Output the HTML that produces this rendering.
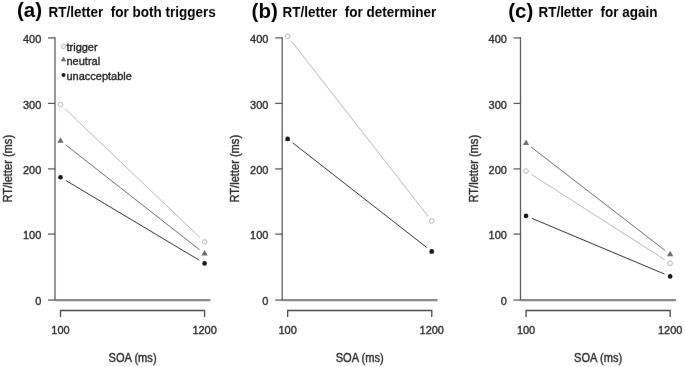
<!DOCTYPE html>
<html><head><meta charset="utf-8"><style>
html,body{margin:0;padding:0;background:#fff;}
svg{display:block;filter:grayscale(100%);}
text{font-family:"Liberation Sans",sans-serif;font-size:11px;fill:#2a2a2a;stroke:#2a2a2a;stroke-width:0.35px;}
text.xl{font-size:11.1px;}
text.yl{font-size:11.1px;}
text.lg{fill:#1e1e1e;stroke:#1e1e1e;}
text.tl{font-weight:bold;font-size:20.5px;fill:#000;stroke:none;}
text.ts{font-weight:bold;font-size:13.5px;fill:#000;stroke:none;}
</style></head><body>
<svg width="685" height="367" viewBox="0 0 685 367">
<defs><filter id="bl" x="0" y="0" width="685" height="367" filterUnits="userSpaceOnUse" color-interpolation-filters="sRGB"><feConvolveMatrix order="3" kernelMatrix="0.0016 0.0371 0.0016 0.0371 0.8450 0.0371 0.0016 0.0371 0.0016" preserveAlpha="true" edgeMode="duplicate"/></filter></defs>
<g filter="url(#bl)">
<rect width="685" height="367" fill="#fff"/>
<line x1="54.74" y1="300.05" x2="210.36" y2="300.05" stroke="#888" stroke-width="2.2"/>
<line x1="55.00" y1="37.27" x2="55.00" y2="300.05" stroke="#555" stroke-width="1.25"/>
<line x1="48.00" y1="300.05" x2="55.00" y2="300.05" stroke="#555" stroke-width="1.25"/>
<text transform="translate(41.30,305.15) scale(1,1.07)" text-anchor="end">0</text>
<line x1="48.00" y1="234.10" x2="55.00" y2="234.10" stroke="#555" stroke-width="1.25"/>
<text transform="translate(41.30,239.20) scale(1,1.07)" text-anchor="end">100</text>
<line x1="48.00" y1="168.90" x2="55.00" y2="168.90" stroke="#555" stroke-width="1.25"/>
<text transform="translate(41.30,174.00) scale(1,1.07)" text-anchor="end">200</text>
<line x1="48.00" y1="103.40" x2="55.00" y2="103.40" stroke="#555" stroke-width="1.25"/>
<text transform="translate(41.30,108.50) scale(1,1.07)" text-anchor="end">300</text>
<line x1="48.00" y1="37.90" x2="55.00" y2="37.90" stroke="#555" stroke-width="1.25"/>
<text transform="translate(41.30,43.00) scale(1,1.07)" text-anchor="end">400</text>
<path d="M60.50,316.9 V310.5 H204.60 V316.9" fill="none" stroke="#474747" stroke-width="1.3"/>
<text transform="translate(60.50,334.20) scale(1,1.07)" text-anchor="middle">100</text>
<text transform="translate(204.60,334.20) scale(1,1.07)" text-anchor="middle">1200</text>
<text transform="translate(132.55,362.10) scale(1,1.07)" text-anchor="middle" class="xl">SOA (ms)</text>
<text transform="translate(12.20,168.70) rotate(-90) scale(1,1.07)" text-anchor="middle" class="yl">RT/letter (ms)</text>
<line x1="65.06" y1="108.85" x2="200.04" y2="237.55" stroke="#b8b8b8" stroke-width="1"/>
<line x1="65.46" y1="144.69" x2="199.64" y2="249.81" stroke="#6a6a6a" stroke-width="1"/>
<line x1="65.91" y1="180.53" x2="199.19" y2="260.17" stroke="#2e2e2e" stroke-width="1"/>
<circle cx="60.50" cy="104.50" r="2.30" fill="none" stroke="#b4b4b4" stroke-width="1"/>
<circle cx="204.60" cy="241.90" r="2.30" fill="none" stroke="#b4b4b4" stroke-width="1"/>
<polygon points="60.50,137.15 63.66,142.63 57.34,142.63" fill="#6c6c6c"/>
<polygon points="204.60,250.05 207.76,255.53 201.44,255.53" fill="#6c6c6c"/>
<circle cx="60.50" cy="177.30" r="2.30" fill="#151515"/>
<circle cx="204.60" cy="263.40" r="2.30" fill="#151515"/>
<text transform="translate(17.00,17.20)" class="tl">(a)</text>
<text transform="translate(48.60,17.45) scale(1,1.05)" class="ts" xml:space="preserve">RT/letter  for both triggers</text>
<line x1="281.89" y1="300.05" x2="437.51" y2="300.05" stroke="#888" stroke-width="2.2"/>
<line x1="282.20" y1="37.27" x2="282.20" y2="300.05" stroke="#555" stroke-width="1.25"/>
<line x1="275.15" y1="300.05" x2="282.20" y2="300.05" stroke="#555" stroke-width="1.25"/>
<text transform="translate(268.45,305.15) scale(1,1.07)" text-anchor="end">0</text>
<line x1="275.15" y1="234.10" x2="282.20" y2="234.10" stroke="#555" stroke-width="1.25"/>
<text transform="translate(268.45,239.20) scale(1,1.07)" text-anchor="end">100</text>
<line x1="275.15" y1="168.90" x2="282.20" y2="168.90" stroke="#555" stroke-width="1.25"/>
<text transform="translate(268.45,174.00) scale(1,1.07)" text-anchor="end">200</text>
<line x1="275.15" y1="103.40" x2="282.20" y2="103.40" stroke="#555" stroke-width="1.25"/>
<text transform="translate(268.45,108.50) scale(1,1.07)" text-anchor="end">300</text>
<line x1="275.15" y1="37.90" x2="282.20" y2="37.90" stroke="#555" stroke-width="1.25"/>
<text transform="translate(268.45,43.00) scale(1,1.07)" text-anchor="end">400</text>
<path d="M287.65,316.9 V310.5 H431.75 V316.9" fill="none" stroke="#474747" stroke-width="1.3"/>
<text transform="translate(287.65,334.20) scale(1,1.07)" text-anchor="middle">100</text>
<text transform="translate(431.75,334.20) scale(1,1.07)" text-anchor="middle">1200</text>
<text transform="translate(359.70,362.10) scale(1,1.07)" text-anchor="middle" class="xl">SOA (ms)</text>
<text transform="translate(239.35,168.70) rotate(-90) scale(1,1.07)" text-anchor="middle" class="yl">RT/letter (ms)</text>
<line x1="291.53" y1="41.32" x2="427.87" y2="215.93" stroke="#b8b8b8" stroke-width="1"/>
<line x1="292.62" y1="142.78" x2="426.78" y2="247.52" stroke="#2e2e2e" stroke-width="1"/>
<circle cx="287.65" cy="36.35" r="2.30" fill="none" stroke="#b4b4b4" stroke-width="1"/>
<circle cx="431.75" cy="220.90" r="2.30" fill="none" stroke="#b4b4b4" stroke-width="1"/>
<polygon points="287.65,136.29 290.34,140.96 284.96,140.96" fill="#6c6c6c"/>
<polygon points="431.75,248.89 434.44,253.56 429.06,253.56" fill="#6c6c6c"/>
<circle cx="287.65" cy="138.90" r="2.30" fill="#151515"/>
<circle cx="431.75" cy="251.40" r="2.30" fill="#151515"/>
<text transform="translate(251.60,17.80)" class="tl">(b)</text>
<text transform="translate(282.50,17.45) scale(1,1.05)" class="ts" xml:space="preserve">RT/letter  for determiner</text>
<line x1="520.29" y1="300.05" x2="675.91" y2="300.05" stroke="#888" stroke-width="2.2"/>
<line x1="520.50" y1="37.27" x2="520.50" y2="300.05" stroke="#555" stroke-width="1.25"/>
<line x1="513.55" y1="300.05" x2="520.50" y2="300.05" stroke="#555" stroke-width="1.25"/>
<text transform="translate(506.85,305.15) scale(1,1.07)" text-anchor="end">0</text>
<line x1="513.55" y1="234.10" x2="520.50" y2="234.10" stroke="#555" stroke-width="1.25"/>
<text transform="translate(506.85,239.20) scale(1,1.07)" text-anchor="end">100</text>
<line x1="513.55" y1="168.90" x2="520.50" y2="168.90" stroke="#555" stroke-width="1.25"/>
<text transform="translate(506.85,174.00) scale(1,1.07)" text-anchor="end">200</text>
<line x1="513.55" y1="103.40" x2="520.50" y2="103.40" stroke="#555" stroke-width="1.25"/>
<text transform="translate(506.85,108.50) scale(1,1.07)" text-anchor="end">300</text>
<line x1="513.55" y1="37.90" x2="520.50" y2="37.90" stroke="#555" stroke-width="1.25"/>
<text transform="translate(506.85,43.00) scale(1,1.07)" text-anchor="end">400</text>
<path d="M526.05,316.9 V310.5 H670.15 V316.9" fill="none" stroke="#474747" stroke-width="1.3"/>
<text transform="translate(526.05,334.20) scale(1,1.07)" text-anchor="middle">100</text>
<text transform="translate(670.15,334.20) scale(1,1.07)" text-anchor="middle">1200</text>
<text transform="translate(598.10,362.10) scale(1,1.07)" text-anchor="middle" class="xl">SOA (ms)</text>
<text transform="translate(477.75,168.70) rotate(-90) scale(1,1.07)" text-anchor="middle" class="yl">RT/letter (ms)</text>
<line x1="531.04" y1="146.95" x2="665.16" y2="250.55" stroke="#6a6a6a" stroke-width="1"/>
<line x1="531.36" y1="174.40" x2="664.84" y2="259.80" stroke="#b8b8b8" stroke-width="1"/>
<line x1="531.86" y1="218.34" x2="664.34" y2="273.96" stroke="#2e2e2e" stroke-width="1"/>
<polygon points="526.05,139.45 529.21,144.93 522.89,144.93" fill="#6c6c6c"/>
<polygon points="670.15,250.75 673.31,256.23 666.99,256.23" fill="#6c6c6c"/>
<circle cx="526.05" cy="171.00" r="2.30" fill="none" stroke="#b4b4b4" stroke-width="1"/>
<circle cx="670.15" cy="263.20" r="2.30" fill="none" stroke="#b4b4b4" stroke-width="1"/>
<circle cx="526.05" cy="215.90" r="2.30" fill="#151515"/>
<circle cx="670.15" cy="276.40" r="2.30" fill="#151515"/>
<text transform="translate(508.20,17.75)" class="tl">(c)</text>
<text transform="translate(538.40,17.45) scale(1,1.05)" class="ts" xml:space="preserve">RT/letter  for again</text>
<circle cx="63.50" cy="46.60" r="2.02" fill="none" stroke="#b4b4b4" stroke-width="1"/>
<text transform="translate(66.50,50.60) scale(1,1.07)" class="lg">trigger</text>
<polygon points="63.50,56.49 66.19,61.16 60.81,61.16" fill="#6c6c6c"/>
<text transform="translate(66.50,65.10) scale(1,1.07)" class="lg">neutral</text>
<circle cx="63.50" cy="75.00" r="2.02" fill="#151515"/>
<text transform="translate(66.50,79.80) scale(1,1.07)" class="lg">unacceptable</text>
</g>
</svg>
</body></html>
